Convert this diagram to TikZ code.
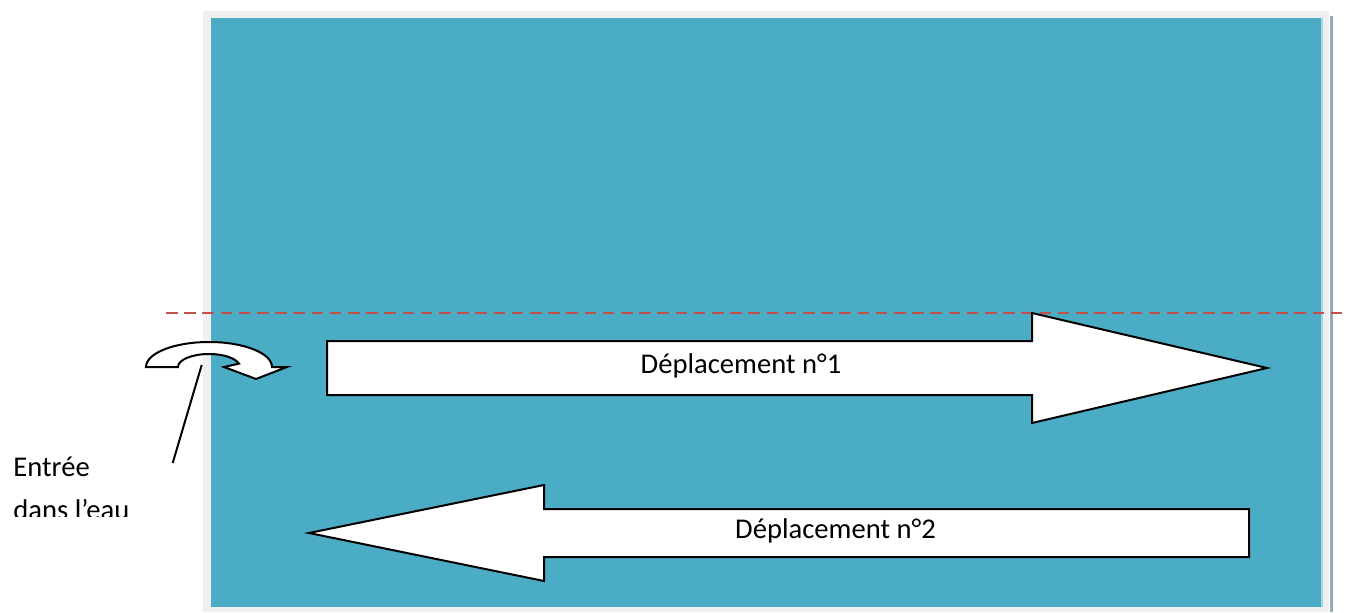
\documentclass[tikz,border=0pt]{standalone}
\usepackage{fontspec}
\setmainfont{Carlito}
\usepackage{tikz}
\usetikzlibrary{calc}

\definecolor{bassin}{HTML}{4BACC6}
\definecolor{cadre}{HTML}{F0F0F0}
\definecolor{bord}{HTML}{93ABB6}
\definecolor{ligne}{HTML}{C0504D}
\definecolor{reflet}{HTML}{A6D6E6}

\begin{document}
\begin{tikzpicture}[x=0.5pt, y=0.5pt,
  fleche/.style={draw=black, line width=1pt, fill=white, line join=miter},
  libelle/.style={font=\fontsize{14.3}{17}\selectfont, inner sep=0pt}]
  \useasboundingbox (0,0) rectangle (1345,612);
  % bassin
  \fill[cadre] (203,0) rectangle (1329,601);
  \fill[bassin] (211,5) rectangle (1321,594);
  \fill[reflet] (1321,5) rectangle (1323,594);
  \fill[bord] (1329.5,0) rectangle (1332.5,596);
  % ligne d'eau
  \draw[ligne, line width=1.1pt, dash pattern=on 5.8pt off 3.3pt] (166,299) -- (1345,299);
  % deplacements
  \draw[fleche] (327,271) -- (1032,271) -- (1032,299) -- (1267,244) -- (1032,189) -- (1032,217) -- (327,217) -- cycle;
  \draw[fleche] (1249,103) -- (544,103) -- (544,127) -- (309,79) -- (544,31) -- (544,55) -- (1249,55) -- cycle;
  \node[libelle, anchor=base] (dep1) at (741,238.7) {Déplacement n°1};
  \node[libelle, anchor=base] (dep2) at (835.5,73.7) {Déplacement n°2};
  % entree dans l'eau
  \draw[fleche] (146,245) -- (178,245) arc[start angle=180, end angle=15, x radius=31, y radius=13] -- (224,245) -- (256,233) -- (287,245) -- (272,245) arc[start angle=0, end angle=180, x radius=63, y radius=25] -- cycle;
  \node[libelle, anchor=base west] (entree) at (13,135.3) {Entrée};
  \begin{scope}
    \clip (0,96) rectangle (200,200);
    \node[libelle, anchor=base west] (eau) at (13,93) {dans l’eau};
  \end{scope}
  \coordinate (pied) at (172.7,149);
  \coordinate (tete) at (201.7,247);
  \draw[line width=1pt] (pied) -- (tete);
\end{tikzpicture}
\end{document}
